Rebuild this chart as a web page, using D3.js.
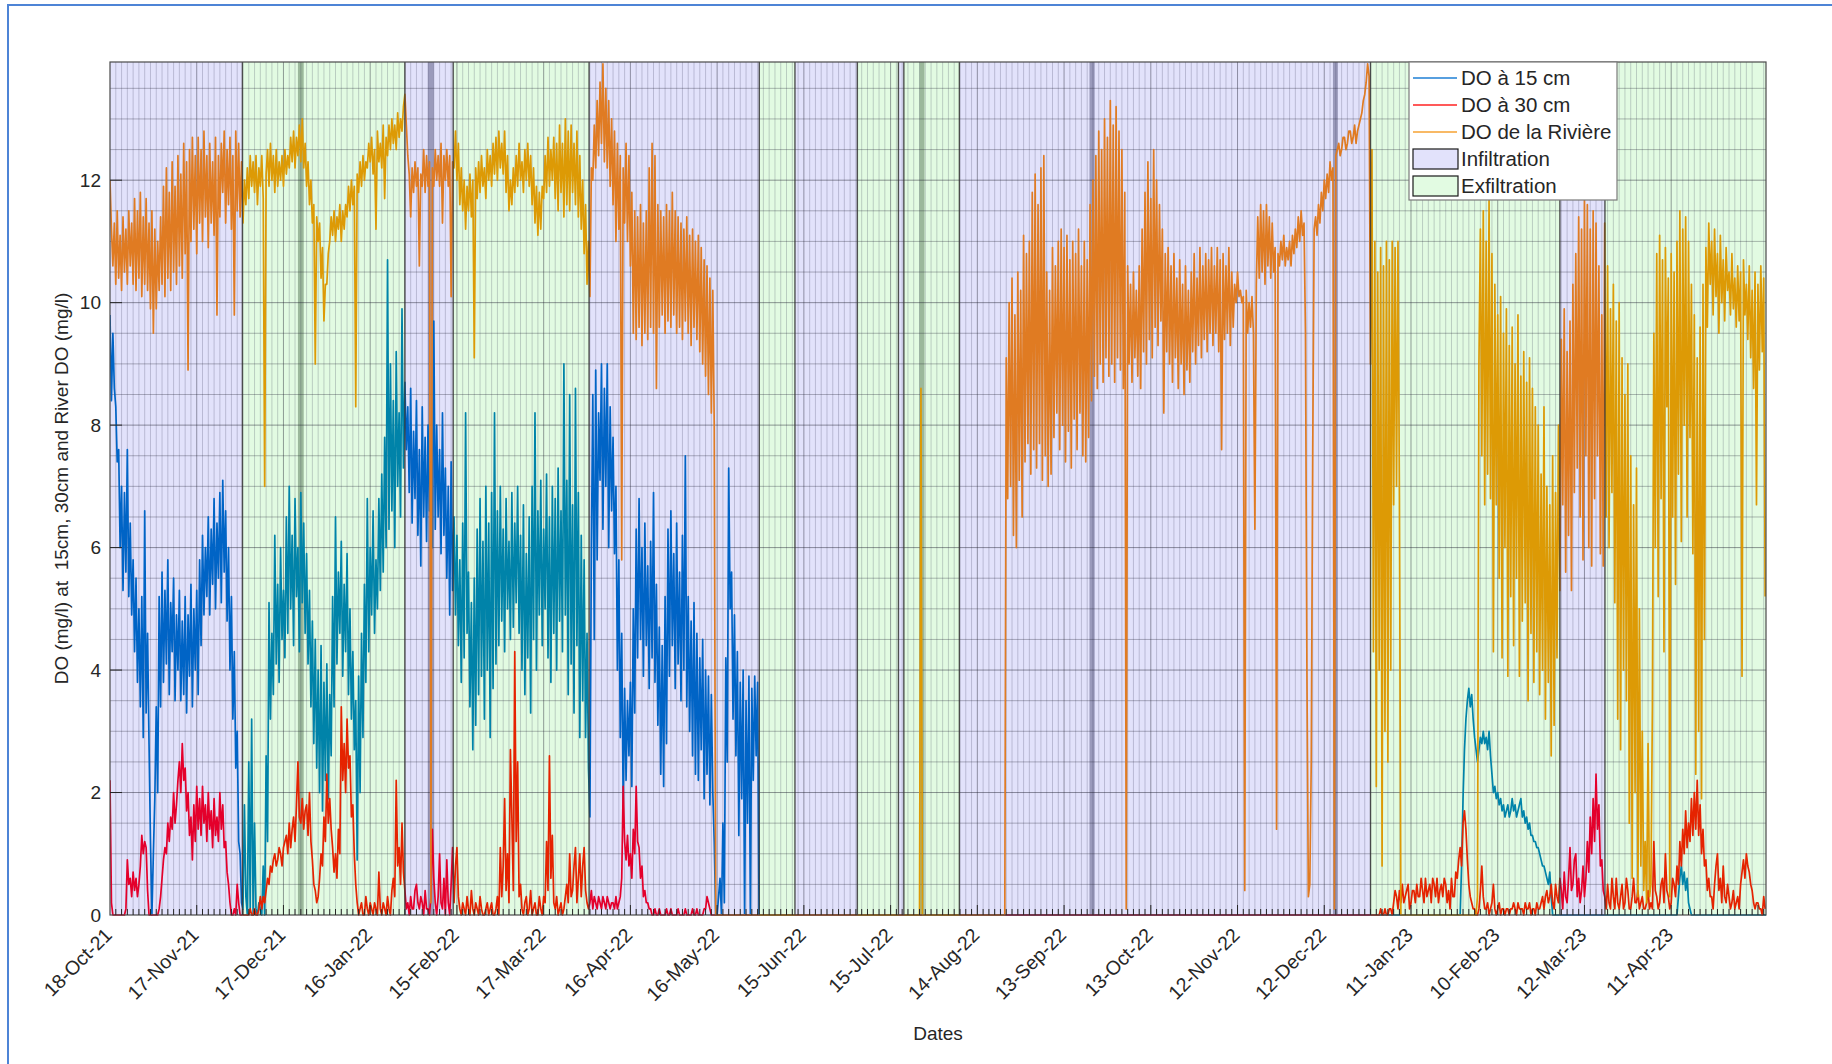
<!DOCTYPE html>
<html>
<head>
<meta charset="utf-8">
<script src="https://cdn.jsdelivr.net/npm/d3@7"></script>
<style>
  body { margin: 0; background: #ffffff; }
  text { font-family: "Liberation Sans", Arial, Helvetica, sans-serif; fill: #262626; }
</style>
</head>
<body>
<svg id="chart" width="1832" height="1064"></svg>
<script>
// ---------------------------------------------------------------------------
// Time span, axis ticks
// ---------------------------------------------------------------------------
const timeStart = "2021-10-18T00:00:00Z";
const timeEnd   = "2023-05-13T19:00:00Z";
const tickDates = ["2021-10-18","2021-11-17","2021-12-17","2022-01-16","2022-02-15","2022-03-17",
  "2022-04-16","2022-05-16","2022-06-15","2022-07-15","2022-08-14","2022-09-13","2022-10-13",
  "2022-11-12","2022-12-12","2023-01-11","2023-02-10","2023-03-12","2023-04-11"];
const yTicks = [0, 2, 4, 6, 8, 10, 12];

// Flow regime periods [start, end]
const infiltration = [
  ["2021-10-18T00:00:00Z","2021-12-02T19:00:00Z"], ["2022-01-28T00:00:00Z","2022-02-13T17:00:00Z"],
  ["2022-04-01T17:00:00Z","2022-05-30T14:00:00Z"], ["2022-06-11T22:00:00Z","2022-07-03T12:00:00Z"],
  ["2022-07-17T17:00:00Z","2022-07-19T14:00:00Z"], ["2022-08-07T19:00:00Z","2022-12-28T00:00:00Z"],
  ["2023-03-03T12:00:00Z","2023-03-19T02:00:00Z"]];
const exfiltration = [
  ["2021-12-02T19:00:00Z","2022-01-28T00:00:00Z"], ["2022-02-13T17:00:00Z","2022-04-01T17:00:00Z"],
  ["2022-05-30T14:00:00Z","2022-06-11T22:00:00Z"], ["2022-07-03T12:00:00Z","2022-07-17T17:00:00Z"],
  ["2022-07-19T14:00:00Z","2022-08-07T19:00:00Z"], ["2022-12-28T00:00:00Z","2023-03-03T12:00:00Z"],
  ["2023-03-19T02:00:00Z","2023-05-13T19:00:00Z"]];
// days where two regime patches overlap
const overlapDays = [
  ["2021-12-22T00:00:00Z","2021-12-24T00:00:00Z"], ["2022-02-05T00:00:00Z","2022-02-07T00:00:00Z"],
  ["2022-07-25T00:00:00Z","2022-07-26T17:00:00Z"], ["2022-09-21T19:00:00Z","2022-09-23T14:00:00Z"],
  ["2022-12-15T00:00:00Z","2022-12-16T17:00:00Z"]];

// ---------------------------------------------------------------------------
// Dissolved oxygen records (mg/l), one value every 12 hours from each run start
// ---------------------------------------------------------------------------
const riverStarts = ["2021-10-18T00:00:00Z", "2022-07-25T00:00:00Z", "2022-08-23T12:00:00Z", "2023-02-02T12:00:00Z"];
const riverA = [
  12.0,11.2, 10.6,11.3, 10.3,11.5, 10.4,11.1, 10.2,11.4, 10.5,11.2, 10.3,11.5, 10.6,11.3, 10.3,11.7, 10.2,11.5,
  10.4,11.8, 10.1,11.4, 10.3,11.7, 10.2,11.3, 9.9,11.5, 9.5,11.2, 9.9,11.0, 10.2,11.4, 10.3,11.9, 10.1,12.2,
  10.4,11.8, 10.2,12.3, 10.5,11.9, 10.3,12.4, 10.6,12.1, 10.4,12.6, 10.8,12.3, 8.9,12.5, 11.0,12.7, 11.2,12.4,
  10.8,12.7, 11.3,12.5, 11.0,12.8, 11.4,12.4, 10.9,12.6, 11.3,12.3, 11.1,12.7, 9.8,12.4, 11.4,12.6, 11.8,12.8,
  11.3,12.5, 11.6,12.7, 11.2,12.4, 9.8,12.8, 11.5,12.6, 11.4,12.3, 11.3,12.0, 11.6,12.2, 11.7,12.4, 11.9,12.3,
  11.8,12.4, 11.6,12.2, 11.9,12.4, 11.7,7.0, 12.1,12.5, 11.9,12.6, 12.0,12.4, 11.8,12.5, 11.9,12.3, 12.0,12.4,
  11.9,12.5, 12.1,12.4, 12.2,12.7, 12.3,12.8, 12.2,12.7, 12.4,12.9, 12.3,13.0, 12.2,12.6, 11.9,12.3, 11.6,12.0,
  11.3,11.6, 9.0,11.4, 11.0,11.3, 10.4,10.9, 9.7,10.3, 10.3,10.8, 11.0,11.4, 11.1,11.5, 11.0,11.4, 11.2,11.6,
  11.0,11.5, 11.2,11.6, 11.4,11.9, 11.5,12.0, 11.6,11.9, 8.3,12.1, 11.8,12.3, 11.9,12.4, 12.0,12.3, 12.2,12.6,
  12.3,12.7, 12.1,12.5, 11.2,12.8, 12.3,12.6, 12.2,12.9, 11.7,12.7, 12.4,12.9, 12.5,13.0, 12.6,12.9, 12.5,13.1,
  12.7,13.0, 12.8,13.2, 13.4,12.9, 12.4,12.1, 11.4,12.2, 11.8,12.3, 11.9,12.2, 10.6,12.1, 11.9,12.5, 11.8,12.4,
  11.9,12.3, 0.2,12.2, 11.9,12.5, 12.0,12.4, 11.9,12.6, 11.3,12.4, 12.0,12.5, 11.9,12.4, 10.1,12.3, 12.2,12.8,
  12.0,12.6, 11.6,12.2, 11.5,12.0, 11.2,11.9, 11.5,12.1, 11.4,12.0, 9.1,12.2, 11.7,12.3, 11.8,12.4, 11.9,12.2,
  11.7,12.5, 12.0,12.4, 11.9,12.6, 12.1,12.7, 12.0,12.8, 12.2,12.6, 12.1,12.8, 11.8,12.4, 11.5,12.0, 11.6,12.2,
  11.8,12.4, 11.9,12.6, 12.0,12.3, 11.8,12.5, 12.0,12.6, 11.9,12.4, 11.6,12.2, 11.3,11.9, 11.1,11.8, 11.2,11.9,
  11.7,12.4, 11.8,12.7, 11.9,12.5, 12.0,12.7, 11.7,12.6, 11.5,12.9, 11.8,12.6, 11.4,13.0, 11.6,12.8, 11.5,12.9,
  11.8,12.6, 11.6,12.8, 11.4,12.4, 11.2,12.0, 10.8,11.6, 10.3,11.0, 10.1,12.2, 12.0,12.9, 12.2,13.3, 12.4,13.6,
  12.6,13.9, 12.3,13.5, 12.2,13.3, 11.9,13.0, 11.6,12.8, 11.0,12.6, 11.2,12.4, 5.8,12.2, 11.3,12.6, 11.0,12.4,
  10.6,11.8, 9.5,11.5, 9.4,11.4, 9.6,11.6, 9.3,11.3, 9.5,11.5, 9.4,12.2, 9.6,12.6, 9.5,12.4, 8.6,11.6,
  9.6,11.5, 9.8,11.4, 9.5,11.6, 9.7,11.5, 9.6,11.8, 9.8,11.5, 9.5,11.4, 9.6,11.3, 9.4,11.2, 9.7,11.4,
  9.5,11.1, 9.3,11.2, 9.6,11.0, 9.4,11.1, 9.2,10.9, 9.0,10.7, 8.8,10.6, 8.5,10.4, 8.2,10.2, 8.0,0.0];
const riverB = [0.0, 8.6, 0.0];
const riverC = [0.0,
  9.1,6.8, 10.0,7.0, 10.4,6.2, 9.8,6.0, 10.5,7.1, 10.2,6.5, 11.1,7.4, 10.8,7.7, 11.0,7.2, 11.8,7.6,
  12.1,7.3, 11.6,7.7, 12.2,7.1, 12.4,7.5, 10.5,7.0, 10.2,7.2, 10.9,7.8, 10.6,8.2, 11.0,7.6, 11.2,8.0,
  10.9,7.4, 11.1,7.9, 10.7,7.3, 11.0,8.1, 10.8,7.6, 11.2,8.2, 10.6,7.5, 11.0,7.4, 10.7,7.8, 11.6,8.4,
  12.0,8.8, 12.4,8.6, 12.8,9.0, 12.5,8.7, 13.0,9.1, 12.7,8.8, 13.3,9.0, 12.9,8.7, 13.2,9.1, 12.8,8.9,
  12.5,8.6, 11.8,0.1, 10.6,9.0, 10.3,8.7, 10.5,9.1, 10.2,8.8, 10.6,8.6, 11.2,9.2, 11.8,9.0, 12.3,9.4,
  11.7,9.1, 12.5,9.6, 12.0,9.3, 11.6,9.7, 11.2,8.2, 10.8,9.2, 10.9,9.0, 10.6,8.7, 10.8,9.1, 10.4,8.6,
  10.7,9.0, 10.3,8.5, 10.6,8.9, 10.2,8.7, 10.5,9.2, 10.8,9.0, 10.4,9.3, 10.9,9.1, 10.6,9.4, 10.8,9.2,
  10.7,9.5, 10.9,9.3, 10.6,9.5, 10.9,9.2, 10.7,7.6, 10.8,9.4, 10.6,9.5, 10.9,9.3, 10.5,9.6, 10.3,10.0,
  10.5,10.1, 10.2,10.0, 10.1,0.4, 10.2,9.5, 10.0,9.6, 10.1,9.5, 6.3,10.3, 11.4,10.4, 11.6,10.5, 11.5,10.3,
  11.6,10.6, 11.4,10.4, 11.3,10.5, 10.9,1.4, 10.8,10.6, 11.0,10.7, 11.1,10.6, 10.9,10.7, 11.0,10.6, 11.1,10.8,
  11.2,10.9, 11.4,11.0, 11.5,11.1, 11.3,9.5, 4.0,0.3, 0.5,2.5, 7.5,11.2, 11.4,11.1, 11.6,11.3, 11.8,11.5,
  12.0,11.7, 12.1,11.8, 12.3,12.0, 12.2,0.1, 12.4,12.5, 12.6,12.4, 12.5,12.7, 12.7,12.5, 12.6,12.8, 12.8,12.6,
  12.7,12.9, 12.6,12.8, 12.9,13.0, 13.1,13.3, 13.4,13.6, 13.9,13.7, 9.0,12.5, 4.3,11.0, 2.1,10.5, 4.0,10.9,
  0.8,10.6, 3.0,11.0, 2.5,10.7, 4.0,11.0, 6.7,10.9, 7.0,11.0, 6.8,0.0];
const riverD = [0.0,
  0.3,9.0, 11.2,7.5, 11.5,6.7, 11.0,7.2, 11.7,6.8, 10.8,4.3, 10.3,6.7, 9.8,5.5, 10.1,4.2, 9.5,6.0,
  9.9,3.9, 9.3,5.2, 9.6,4.4, 9.0,5.5, 9.8,3.9, 8.8,4.8, 9.2,5.1, 8.7,3.5, 9.1,4.6, 8.6,3.8,
  8.3,4.3, 8.0,3.6, 7.2,4.0, 8.3,3.2, 7.0,3.8, 6.7,2.6, 7.5,3.1, 6.9,4.2, 8.0,5.3, 9.4,6.7,
  9.9,5.6, 9.2,6.2, 9.7,5.3, 10.3,6.9, 10.8,7.3, 11.4,6.5, 11.2,5.8, 11.7,7.5, 11.6,6.0, 11.2,5.7,
  11.5,6.8, 11.3,7.5, 10.6,5.9, 9.8,5.7, 11.3,6.5, 10.6,6.0, 9.9,6.9, 10.3,5.1, 9.7,3.2, 10.0,2.7,
  9.1,4.0, 8.5,3.5, 9.0,1.5, 7.5,0.6, 6.7,2.0, 7.3,0.3, 5.0,0.8, 3.0,0.4, 1.2,0.2, 2.8,0.3,
  0.5,3.4, 9.5,6.0, 10.8,5.2, 11.1,6.8, 10.7,4.3, 10.9,8.3, 10.4,0.3, 10.8,6.5, 10.5,5.4, 11.0,7.2,
  11.5,6.1, 11.2,8.0, 11.4,6.5, 11.0,7.8, 10.3,5.9, 9.8,2.3, 9.1,3.0, 9.6,1.9, 10.3,4.5, 10.9,9.6,
  11.3,10.3, 11.0,9.8, 11.2,10.1, 10.8,9.5, 11.1,10.0, 10.7,9.7, 10.9,10.2, 10.5,9.8, 10.8,9.9, 10.4,9.6,
  10.6,9.7, 10.5,3.9, 10.7,9.8, 10.3,9.4, 10.6,9.1, 10.2,8.6, 10.5,6.7, 10.3,8.9, 10.6,9.2, 10.4,5.2];

const do15Starts = ["2021-10-18T00:00:00Z", "2023-01-28T00:00:00Z", "2023-04-13T00:00:00Z", "2023-05-13T12:00:00Z"];
const do15A = [
  9.8,8.4, 9.5,8.6, 8.3,7.4, 7.6,6.0, 7.0,5.3, 6.9,5.6, 7.6,5.2, 6.4,4.9, 5.8,4.3, 5.5,3.8,
  5.0,3.4, 5.2,2.9, 6.6,3.3, 4.6,2.8, 1.2,0.0, 1.0,1.9, 3.4,2.0, 5.2,3.4, 5.6,3.8, 5.3,4.1,
  5.8,3.6, 5.1,4.3, 5.5,3.5, 4.9,4.0, 5.3,3.5, 4.8,3.6, 5.2,3.3, 4.9,3.9, 5.4,3.4, 5.0,4.0,
  5.3,3.6, 5.8,4.4, 6.2,4.9, 6.0,5.2, 6.5,4.9, 6.3,5.4, 6.8,5.0, 6.4,5.5, 6.9,5.1, 7.1,5.6,
  6.6,4.8, 6.0,4.0, 5.2,3.2, 4.3,2.4, 3.0,1.2, 1.0,0.2, 0.1,1.8, 0.3,0.0, 2.5,0.1, 3.2,0.0,
  1.5,0.1, 0.0,0.2, 0.1,0.0, 0.8,0.0, 2.6,1.2, 5.1,3.2, 4.6,3.6, 6.2,4.1, 5.4,3.8, 6.0,4.5,
  5.3,4.2, 6.5,4.6, 7.0,5.0, 6.2,4.4, 6.8,5.2, 6.0,4.3, 6.9,5.1, 6.4,4.6, 5.9,4.1, 5.3,3.4,
  4.8,2.8, 4.5,2.4, 4.0,2.0, 4.4,1.7, 3.8,2.2, 4.1,1.9, 3.6,2.6, 5.2,3.4, 6.5,4.1, 5.6,4.6,
  6.1,3.9, 5.4,4.3, 5.9,3.6, 5.0,3.2, 4.3,2.7, 3.5,0.9, 3.9,2.0, 4.6,2.9, 5.4,3.8, 6.8,4.3,
  6.0,4.9, 6.6,4.6, 5.8,5.0, 6.8,5.3, 7.2,5.6, 7.8,6.0, 10.7,6.3, 9.0,6.6, 8.4,6.0, 9.2,7.0,
  8.2,6.5, 9.9,7.3, 8.7,7.6, 8.3,6.9, 8.6,6.4, 7.9,6.8, 8.4,6.2, 7.6,5.7, 8.3,6.5, 7.8,6.1,
  8.0,6.6, 7.4,6.0, 9.7,6.3, 8.0,6.5, 7.6,5.9, 8.2,6.2, 7.3,5.5, 7.0,4.9, 7.4,5.3, 6.5,4.9,
  6.2,4.4, 5.8,3.8, 6.4,4.2, 8.2,4.6, 5.6,3.4, 5.1,2.7, 5.5,3.1, 6.3,3.6, 6.8,3.9, 6.1,3.2,
  7.0,4.0, 6.4,2.9, 6.9,3.7, 8.2,4.1, 6.6,4.4, 7.0,4.8, 6.3,4.3, 6.8,5.0, 6.1,4.5, 6.9,4.7,
  6.4,5.1, 7.0,4.6, 6.2,4.0, 6.7,3.6, 5.9,4.2, 6.5,3.3, 7.0,4.5, 8.2,4.0, 6.6,4.9, 7.1,4.4,
  6.3,5.0, 7.2,4.2, 6.5,3.8, 7.0,4.6, 6.8,4.0, 7.3,4.8, 6.6,4.3, 9.0,4.9, 7.1,3.6, 8.5,4.1,
  6.7,3.3, 8.6,4.4, 6.9,2.9, 6.2,3.5, 5.8,2.9, 4.6,2.4, 1.6,6.0, 8.5,4.5, 8.9,5.8, 8.2,7.1,
  9.0,6.3, 8.6,7.0, 9.0,6.0, 8.3,6.6, 7.8,5.9, 7.0,4.0, 5.8,2.9, 4.6,1.8, 3.7,2.2, 3.5,2.6,
  3.8,2.1, 5.0,3.3, 6.3,4.2, 6.8,4.5, 6.0,3.9, 6.4,4.4, 5.7,3.7, 6.1,4.2, 6.9,3.8, 5.4,3.1,
  4.7,2.3, 4.4,2.1, 5.2,2.8, 6.3,3.9, 6.6,4.4, 5.9,3.7, 6.4,4.1, 5.6,3.5, 6.2,4.0, 7.5,3.4,
  5.2,3.0, 4.8,2.6, 5.1,2.3, 4.6,2.2, 4.2,2.7, 4.5,1.9, 4.0,2.3, 3.9,1.8, 3.6,2.0, 1.2,0.0,
  0.0,0.3, 0.6,0.0, 1.5,0.2, 4.2,2.5, 7.3,5.0, 5.6,3.2, 4.9,2.6, 4.3,1.3, 3.8,1.9, 4.0,0.0,
  3.5,1.5, 3.9,0.0, 3.7,2.2, 3.9,2.6, 3.8,0.0];
const do15B = [
  0.0,0.8, 1.9,2.7, 3.2,3.5, 3.7,3.4, 3.6,3.2, 2.9,2.7, 2.5,2.7, 2.9,2.8, 3.0,2.8, 2.9,2.7,
  3.0,2.6, 2.3,2.0, 2.1,1.9, 2.0,1.8, 1.9,1.7, 1.8,1.6, 1.7,1.8, 1.6,1.7, 1.9,1.7, 1.8,1.6,
  1.7,1.8, 1.9,1.6, 1.7,1.5, 1.6,1.4, 1.5,1.3, 1.3,1.2, 1.2,1.1, 1.1,1.0, 0.9,0.8, 0.8,0.7,
  0.6,0.5, 0.7,0.3, 0.0,0.0];
const do15C = [0.0,0.3, 0.6,0.8, 0.5,0.7, 0.4,0.6, 0.2,0.1, 0.0];
const do15D = [0.0, 0.0];

const do30Starts = ["2021-10-18T00:00:00Z", "2022-12-28T00:00:00Z"];
const do30A = [
  2.2,0.2, 0.0,0.0, 0.0,0.0, 0.0,0.0, 0.0,0.0, 0.0,0.1, 0.9,0.5, 0.6,0.3, 0.7,0.4, 0.6,0.3,
  0.5,0.8, 1.3,1.0, 1.2,1.1, 0.4,0.0, 0.0,0.0, 0.0,0.0, 0.0,0.0, 0.1,0.3, 0.6,0.9, 1.1,1.0,
  1.5,1.2, 1.6,1.4, 2.0,1.5, 1.8,2.2, 2.5,2.0, 2.8,2.2, 2.4,1.7, 2.0,1.3, 1.6,0.9, 1.8,1.2,
  2.1,1.4, 1.9,1.3, 2.1,1.5, 1.8,1.2, 2.0,1.4, 1.7,1.1, 1.9,1.3, 1.6,1.2, 2.0,1.4, 1.8,1.1,
  1.2,0.7, 0.5,0.2, 0.0,0.0, 0.1,0.0, 0.5,0.2, 0.0,0.0, 0.0,0.0, 0.0,0.0, 0.0,0.1, 0.0,0.0,
  0.1,0.0, 0.0,0.1, 0.3,0.1, 0.3,0.2, 0.4,0.6, 0.5,0.8, 0.7,0.9, 1.0,0.8, 0.9,1.1, 1.0,0.8,
  1.1,1.2, 1.3,1.0, 1.5,1.1, 1.4,1.6, 1.2,1.8, 2.5,1.6, 1.5,1.9, 1.4,1.7, 1.8,1.3, 2.0,1.2,
  0.9,0.5, 0.4,0.2, 0.3,0.6, 1.0,0.8, 1.6,1.2, 2.3,1.5, 1.9,1.4, 1.1,0.7, 1.0,0.6, 1.4,1.0,
  3.4,2.2, 2.8,2.0, 3.2,2.4, 2.6,1.6, 1.8,1.0, 0.5,0.2, 0.0,0.1, 0.2,0.0, 0.0,0.3, 0.1,0.0,
  0.2,0.1, 0.0,0.2, 0.1,0.0, 0.7,0.1, 0.0,0.2, 0.1,0.0, 0.3,0.1, 0.0,0.4, 0.6,0.3, 2.2,0.8,
  1.1,0.5, 1.5,0.7, 0.4,0.1, 0.2,0.0, 0.3,0.1, 0.1,0.4, 0.5,0.2, 0.1,0.3, 0.2,0.0, 0.4,0.1,
  0.1,0.0, 0.3,1.4, 0.6,0.2, 0.0,0.3, 1.0,0.2, 0.1,0.6, 0.0,0.9, 0.2,0.0, 0.5,1.1, 0.2,0.8,
  1.1,0.3, 0.1,0.0, 0.2,0.1, 0.0,0.3, 0.1,0.0, 0.4,0.1, 0.0,0.2, 0.1,0.0, 0.3,0.1, 0.0,0.0,
  0.1,0.2, 0.0,0.1, 0.2,0.0, 0.0,0.1, 0.3,0.0, 1.1,0.3, 0.8,1.9, 0.4,1.0, 0.2,2.7, 1.6,0.4,
  4.3,1.2, 2.5,0.3, 0.5,0.1, 0.0,0.2, 0.3,0.0, 0.1,0.4, 0.0,0.1, 0.2,0.0, 0.0,0.3, 0.1,0.0,
  0.3,0.2, 1.2,0.4, 2.6,0.6, 1.3,0.2, 0.1,0.3, 0.0,0.1, 0.2,0.0, 0.1,0.3, 0.5,0.2, 1.0,0.3,
  0.4,0.8, 1.1,0.2, 0.6,1.0, 0.3,0.8, 1.1,0.4, 0.2,0.1, 0.2,0.4, 0.1,0.3, 0.2,0.1, 0.3,0.2,
  0.1,0.3, 0.2,0.1, 0.3,0.2, 0.1,0.2, 0.2,0.1, 0.3,0.1, 0.2,0.3, 0.6,2.1, 1.2,0.9, 1.3,0.8,
  1.0,0.6, 1.4,1.0, 2.1,1.2, 1.1,0.6, 0.8,0.3, 0.4,0.2, 0.2,0.1, 0.1,0.0, 0.0,0.1, 0.0,0.0,
  0.1,0.0, 0.0,0.0, 0.0,0.1, 0.0,0.0, 0.1,0.0, 0.0,0.0, 0.0,0.1, 0.0,0.0, 0.0,0.0, 0.1,0.0,
  0.0,0.0, 0.0,0.1, 0.0,0.0, 0.1,0.0, 0.0,0.0, 0.0,0.1, 0.1,0.3, 0.2,0.1, 0.0,0.0, 0.0,0.0];
const do30B = [
  0.0,0.0, 0.0,0.0, 0.0,0.0, 0.0,0.1, 0.0,0.0, 0.1,0.0, 0.0,0.1, 0.1,0.0, 0.2,0.4, 0.3,0.1,
  0.4,0.2, 0.5,0.2, 0.3,0.4, 0.5,0.1, 0.2,0.4, 0.4,0.2, 0.5,0.3, 0.3,0.6, 0.4,0.2, 0.6,0.3,
  0.4,0.5, 0.2,0.6, 0.5,0.3, 0.6,0.2, 0.4,0.5, 0.3,0.6, 0.5,0.2, 0.4,0.1, 0.6,0.3, 0.3,0.7,
  0.6,0.9, 1.1,0.8, 1.5,1.7, 1.4,0.9, 0.5,0.3, 0.2,0.1, 0.1,0.0, 0.0,0.1, 0.4,0.8, 0.3,0.1,
  0.1,0.2, 0.0,0.1, 0.2,0.5, 0.1,0.0, 0.1,0.2, 0.0,0.1, 0.1,0.0, 0.1,0.1, 0.0,0.1, 0.1,0.2,
  0.1,0.0, 0.2,0.1, 0.1,0.1, 0.0,0.2, 0.1,0.1, 0.2,0.0, 0.1,0.1, 0.0,0.2, 0.1,0.1, 0.2,0.3,
  0.1,0.3, 0.4,0.2, 0.3,0.5, 0.2,0.1, 0.5,0.3, 0.2,0.6, 0.4,0.1, 0.7,0.3, 0.2,0.6, 1.1,0.4,
  0.5,0.9, 1.0,0.3, 0.6,0.2, 0.4,0.8, 0.3,0.6, 1.2,0.7, 1.6,1.0, 1.9,1.2, 2.3,1.4, 1.8,0.8,
  0.9,0.4, 0.3,0.1, 0.5,0.2, 0.1,0.6, 0.3,0.1, 0.6,0.2, 0.1,0.3, 0.5,0.1, 0.2,0.6, 0.4,0.1,
  0.1,0.3, 0.6,0.2, 0.2,0.4, 0.1,0.2, 0.3,0.1, 0.1,0.2, 0.4,0.1, 0.2,0.1, 1.2,0.4, 0.3,0.1,
  0.2,0.5, 0.6,0.2, 1.0,0.4, 0.3,0.1, 0.2,0.6, 0.5,0.3, 0.8,0.5, 1.2,0.8, 1.4,1.0, 1.7,1.1,
  1.5,1.2, 1.9,1.3, 2.0,1.4, 2.2,1.3, 1.8,1.0, 1.4,0.8, 0.9,0.4, 0.6,0.3, 0.3,0.1, 0.5,0.8,
  1.0,0.4, 0.6,0.2, 0.8,0.3, 0.2,0.5, 0.3,0.1, 0.2,0.4, 0.1,0.2, 0.3,0.1, 0.5,0.7, 0.9,0.6,
  1.0,0.8, 0.7,0.5, 0.4,0.2, 0.1,0.2, 0.2,0.1, 0.1,0.0, 0.3,0.1];

// Series names and colours (line tint under each regime, legend colour)
const seriesNames = ["DO à 15 cm", "DO à 30 cm", "DO de la Rivière"];
const seriesInfColor = ["#0064c6", "#e4002b", "#e07b22"];
const seriesExfColor = ["#0083a9", "#e52300", "#dd9a05"];
const seriesLegendColor = ["#1f7fd4", "#ff2222", "#f6a232"];
const regimeNames = ["Infiltration", "Exfiltration"];
const regimeFill = ["#e2e2fb", "#e2fbe2"];

// ---------------------------------------------------------------------------
const svg = d3.select("#chart");
const W = 1832, H = 1064;
const M = { left: 110, right: 1766, top: 62, bottom: 915 };
const HOUR = 3600e3;

const x = d3.scaleUtc().domain([new Date(timeStart), new Date(timeEnd)]).range([M.left, M.right]);
const y = d3.scaleLinear().domain([0, 13.93]).range([M.bottom, M.top]);

function expandRun(start, values) {
  const t0 = new Date(start).getTime();
  return values.map((v, i) => ({ t: new Date(t0 + i * 12 * HOUR), v }));
}
const seriesData = [
  [].concat(expandRun(do15Starts[0], do15A), expandRun(do15Starts[1], do15B),
            expandRun(do15Starts[2], do15C), expandRun(do15Starts[3], do15D)),
  [].concat(expandRun(do30Starts[0], do30A), expandRun(do30Starts[1], do30B)),
  [].concat(expandRun(riverStarts[0], riverA), expandRun(riverStarts[1], riverB),
            expandRun(riverStarts[2], riverC), expandRun(riverStarts[3], riverD))
];

svg.append("rect").attr("width", W).attr("height", H).attr("fill", "#ffffff");

// figure frame
svg.append("path")
  .attr("d", `M8,${H} L8,5 L${W},5`)
  .attr("fill", "none").attr("stroke", "#4d84d6").attr("stroke-width", 2);

const defs = svg.append("defs");
function regimeClip(id, periods) {
  const cp = defs.append("clipPath").attr("id", id);
  cp.selectAll("rect").data(periods).join("rect")
    .attr("x", d => x(new Date(d[0])))
    .attr("width", d => x(new Date(d[1])) - x(new Date(d[0])))
    .attr("y", M.top - 1).attr("height", M.bottom - M.top + 3);
}
regimeClip("clip-inf", infiltration);
regimeClip("clip-exf", exfiltration);

// regime patches
const gBands = svg.append("g");
[infiltration, exfiltration].forEach((periods, k) => {
  gBands.selectAll(null).data(periods).join("rect")
    .attr("x", d => x(new Date(d[0])))
    .attr("width", d => x(new Date(d[1])) - x(new Date(d[0])))
    .attr("y", M.top).attr("height", M.bottom - M.top)
    .attr("fill", regimeFill[k]);
});
const inInfiltration = t => infiltration.some(p => t >= new Date(p[0]) && t <= new Date(p[1]));
gBands.selectAll(null).data(overlapDays).join("rect")
  .attr("x", d => x(new Date(d[0])))
  .attr("width", d => x(new Date(d[1])) - x(new Date(d[0])))
  .attr("y", M.top).attr("height", M.bottom - M.top)
  .attr("fill", d => {
    const mid = new Date((new Date(d[0]).getTime() + new Date(d[1]).getTime()) / 2);
    return inInfiltration(mid) ? "#9a9abb" : "#9bb89b";
  });

// grid
const gGrid = svg.append("g");
const t0 = new Date(timeStart);
const totalDays = (new Date(timeEnd) - t0) / (24 * HOUR);
const minorDays = d3.range(2, totalDays, 2).filter(d => d % 30 !== 0);
gGrid.selectAll(null).data(minorDays).join("line")
  .attr("x1", d => x(d3.utcDay.offset(t0, d))).attr("x2", d => x(d3.utcDay.offset(t0, d)))
  .attr("y1", M.top).attr("y2", M.bottom)
  .attr("stroke", "#1a1a3a").attr("stroke-opacity", 0.2).attr("stroke-width", 1);
const majorTicks = tickDates.map(s => new Date(s + "T00:00:00Z"));
gGrid.selectAll(null).data(majorTicks.slice(1)).join("line")
  .attr("x1", d => x(d)).attr("x2", d => x(d))
  .attr("y1", M.top).attr("y2", M.bottom)
  .attr("stroke", "#1a1a2a").attr("stroke-opacity", 0.42).attr("stroke-width", 1);
const hMinor = d3.range(0.5, 13.93, 0.5).filter(v => v % 2 !== 0);
gGrid.selectAll(null).data(hMinor).join("line")
  .attr("x1", M.left).attr("x2", M.right)
  .attr("y1", d => y(d)).attr("y2", d => y(d))
  .attr("stroke", "#1a1a2a").attr("stroke-opacity", 0.3).attr("stroke-width", 1);
gGrid.selectAll(null).data(yTicks.slice(1)).join("line")
  .attr("x1", M.left).attr("x2", M.right)
  .attr("y1", d => y(d)).attr("y2", d => y(d))
  .attr("stroke", "#1a1a2a").attr("stroke-opacity", 0.45).attr("stroke-width", 1);

// data lines, tinted per regime
const line = d3.line().x(d => x(d.t)).y(d => y(d.v));
const gLines = svg.append("g");
seriesData.forEach((pts, i) => {
  [["clip-inf", seriesInfColor[i]], ["clip-exf", seriesExfColor[i]]].forEach(([clip, col]) => {
    gLines.append("path")
      .datum(pts)
      .attr("clip-path", `url(#${clip})`)
      .attr("d", line)
      .attr("fill", "none")
      .attr("stroke", col)
      .attr("stroke-width", 1.7)
      .attr("stroke-linejoin", "round");
  });
});

// regime boundaries
const edges = Array.from(new Set([].concat(...infiltration, ...exfiltration)))
  .map(s => new Date(s))
  .filter(d => d > new Date(timeStart) && d < new Date(timeEnd));
svg.append("g").selectAll("line").data(edges).join("line")
  .attr("x1", d => x(d)).attr("x2", d => x(d))
  .attr("y1", M.top).attr("y2", M.bottom)
  .attr("stroke", "#333333").attr("stroke-opacity", 0.85).attr("stroke-width", 1.4);

// axes box and ticks
const gAxes = svg.append("g");
gAxes.append("rect")
  .attr("x", M.left).attr("y", M.top)
  .attr("width", M.right - M.left).attr("height", M.bottom - M.top)
  .attr("fill", "none").attr("stroke", "#4a4a4a").attr("stroke-width", 1.2);
gAxes.selectAll(null).data(d3.range(2, totalDays, 2)).join("line")
  .attr("x1", d => x(d3.utcDay.offset(t0, d))).attr("x2", d => x(d3.utcDay.offset(t0, d)))
  .attr("y1", M.bottom).attr("y2", d => M.bottom - (d % 30 === 0 ? 10 : 6))
  .attr("stroke", "#262626").attr("stroke-width", 1);
gAxes.selectAll(null).data(yTicks.slice(1)).join("line")
  .attr("x1", M.left).attr("x2", M.left + 12)
  .attr("y1", d => y(d)).attr("y2", d => y(d))
  .attr("stroke", "#262626").attr("stroke-width", 1);

const fmt = d3.utcFormat("%d-%b-%y");
svg.append("g").selectAll("text").data(majorTicks).join("text")
  .attr("transform", d => `translate(${x(d) - 5},${M.bottom + 13}) rotate(-45)`)
  .attr("text-anchor", "end").attr("dy", "0.6em")
  .style("font-size", "19.5px")
  .text(d => fmt(d));
svg.append("g").selectAll("text").data(yTicks).join("text")
  .attr("x", M.left - 9).attr("y", d => y(d)).attr("dy", "0.35em")
  .attr("text-anchor", "end").style("font-size", "19px")
  .text(d => d);

svg.append("text")
  .attr("x", (M.left + M.right) / 2).attr("y", 1040)
  .attr("text-anchor", "middle").style("font-size", "19px")
  .text("Dates");
svg.append("text")
  .attr("transform", `translate(68,${(M.top + M.bottom) / 2}) rotate(-90)`)
  .attr("text-anchor", "middle").style("font-size", "19px")
  .attr("xml:space", "preserve")
  .text("DO (mg/l) at  15cm, 30cm and River DO (mg/l)");

// legend
const lg = svg.append("g");
lg.append("rect").attr("x", 1409).attr("y", 62).attr("width", 208).attr("height", 138)
  .attr("fill", "#ffffff").attr("stroke", "#7a7a7a").attr("stroke-width", 1.2);
const rowY = [78, 105, 132, 159, 186];
seriesNames.forEach((name, i) => {
  lg.append("line").attr("x1", 1413).attr("x2", 1457).attr("y1", rowY[i]).attr("y2", rowY[i])
    .attr("stroke", seriesLegendColor[i]).attr("stroke-width", 1.6);
  lg.append("text").attr("x", 1461).attr("y", rowY[i]).attr("dy", "0.35em")
    .style("font-size", "20.5px").text(name);
});
regimeNames.forEach((name, k) => {
  const yy = rowY[3 + k];
  lg.append("rect").attr("x", 1413).attr("y", yy - 10).attr("width", 45).attr("height", 20)
    .attr("fill", regimeFill[k]).attr("stroke", "#1a1a1a").attr("stroke-width", 1.2);
  lg.append("text").attr("x", 1461).attr("y", yy).attr("dy", "0.35em")
    .style("font-size", "20.5px").text(name);
});
</script>
</body>
</html>
